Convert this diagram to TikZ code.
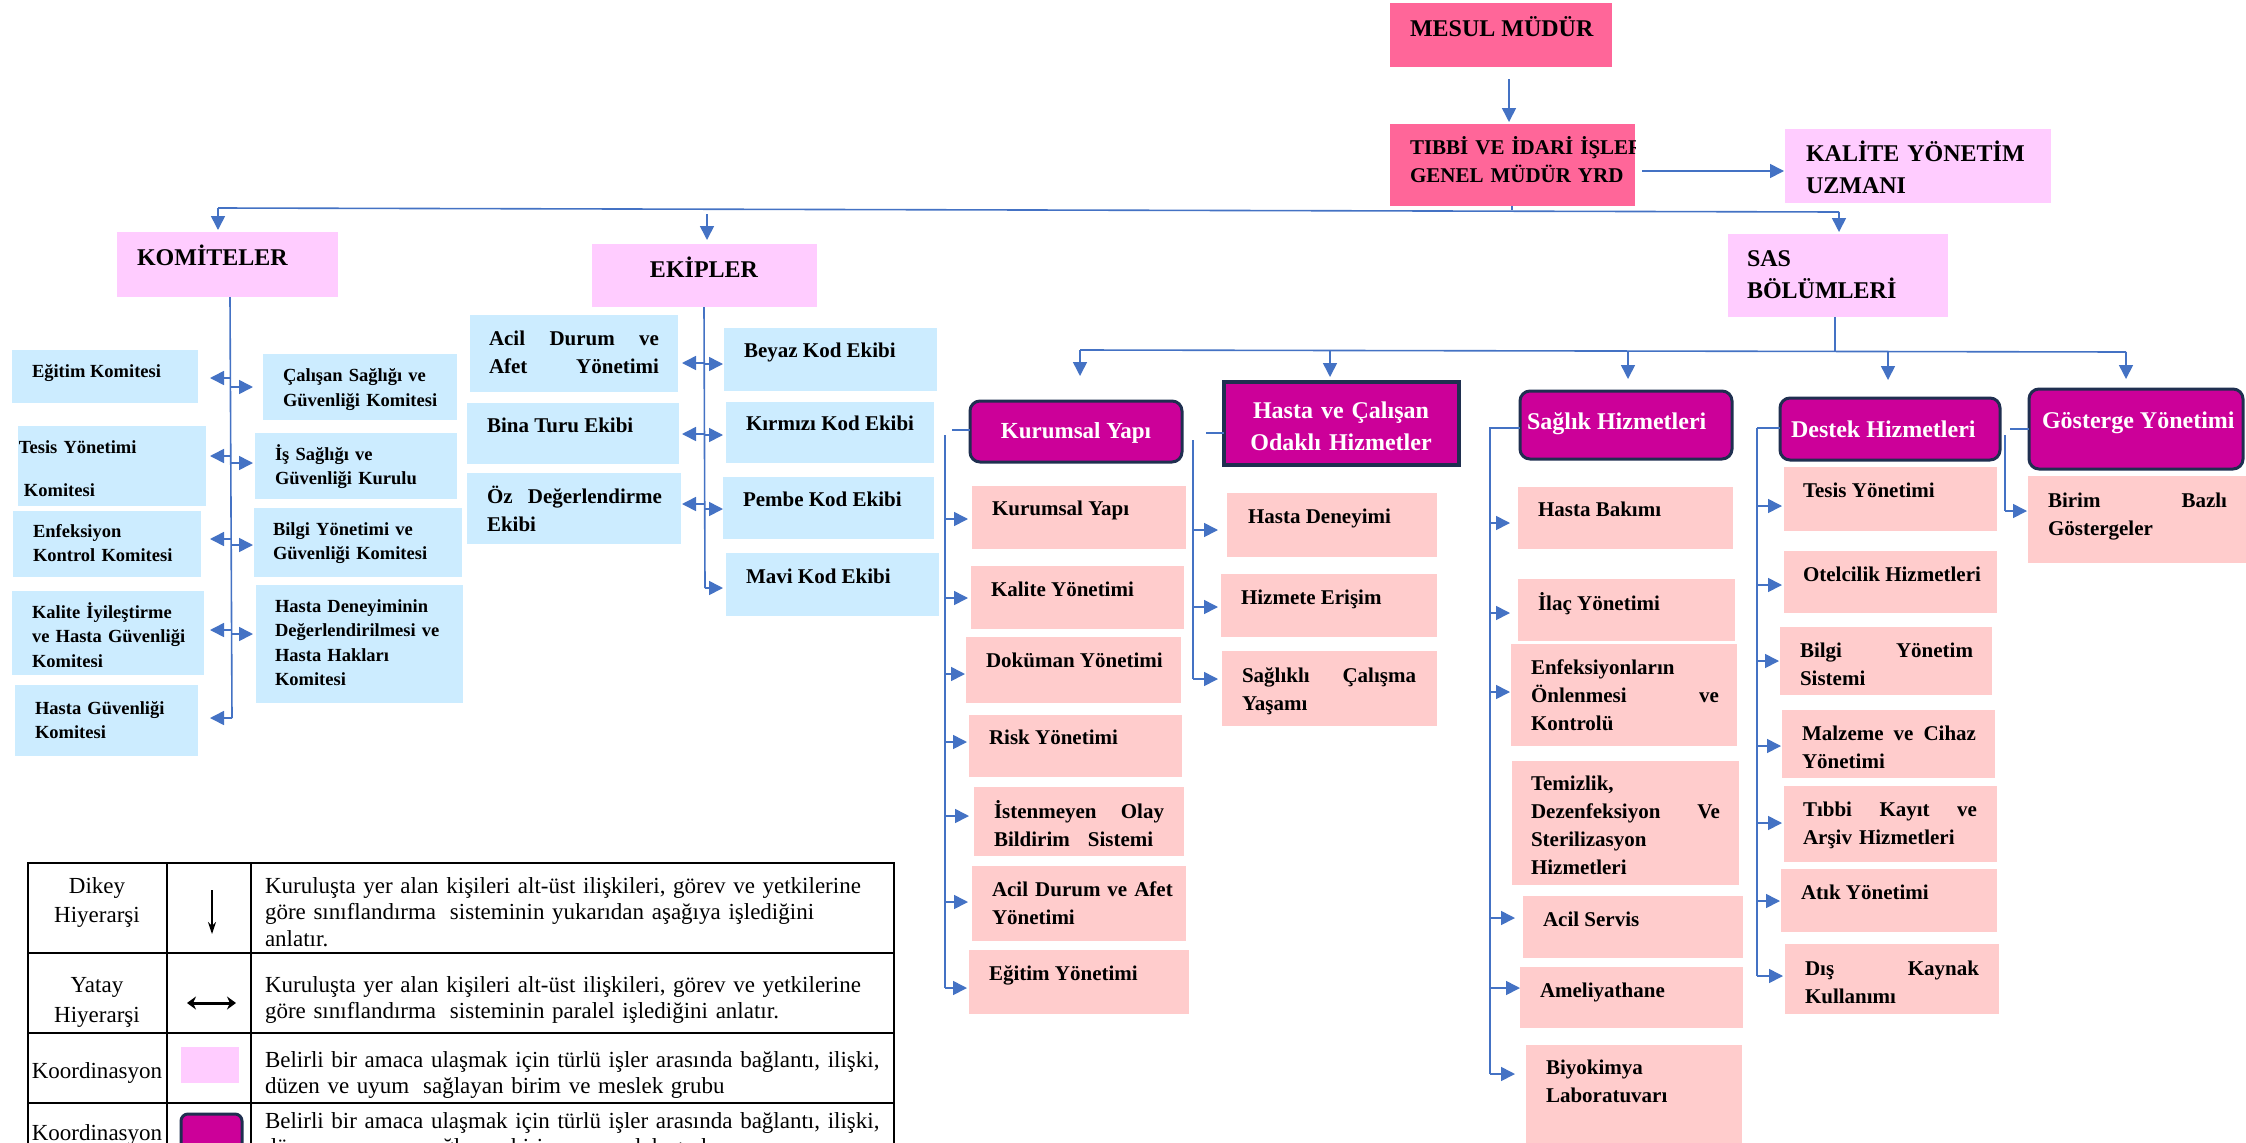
\documentclass[tikz,border=0pt]{standalone}
\usepackage{fontspec}
\setmainfont{Liberation Serif}
\usetikzlibrary{arrows.meta}
\definecolor{cblue}{HTML}{4472C4}
\definecolor{mpink}{HTML}{FF6699}
\definecolor{lpink}{HTML}{FFCCFF}
\definecolor{lblue}{HTML}{CCECFF}
\definecolor{salmon}{HTML}{FFCCCC}
\definecolor{mag}{HTML}{CC0099}
\definecolor{navy}{HTML}{1F2F50}
\newcommand\mybox[6]{\pgfmathsetmacro\myBW{#5-#3}\pgfmathsetmacro\myBH{#6-#4}%
 \node[#1, minimum width=\myBW pt, minimum height=\myBH pt] (#2) at (#3,#4) {};}
\newcommand\mytext[5]{\node[#1, anchor=base west, inner sep=0pt, outer sep=0pt] (#2) at (#3,#4) {#5};}
\begin{document}
\begin{tikzpicture}[x=1pt,y=-1pt,
 ln/.style={draw=cblue, line width=1.6pt},
 arr/.style={ln, -{Triangle[length=14pt,width=14pt]}},
 box/.style={inner sep=0pt, outer sep=0pt, anchor=north west},
 mpbox/.style={box, fill=mpink},
 lpbox/.style={box, fill=lpink},
 lbbox/.style={box, fill=lblue},
 sbox/.style={box, fill=salmon},
 hbox/.style={box, fill=mag, draw=navy, line width=3pt, rounded corners=10pt},
 hsq/.style={box, fill=mag, draw=navy, line width=3.5pt},
 ml/.style={align=left, text width=400pt},
 fK/.style={font=\bfseries\fontsize{18.5}{24.5}\selectfont},
 fT/.style={font=\bfseries\fontsize{21}{28}\selectfont},
 fH/.style={font=\bfseries\fontsize{24}{32}\selectfont},
 fW/.style={fH, text=white},
 fL/.style={font=\fontsize{23}{26.6}\selectfont},
 tbl/.style={draw=black, line width=2pt}]
\useasboundingbox (0,0) rectangle (2246,1143);
\clip (0,0) rectangle (2246,1143);
\fill[white] (0,0) rectangle (2246,1143);

% ---------------- top
\mybox{mpbox}{mesul}{1390}{3}{1612}{67}
\mytext{fH}{mesulT}{1410}{36}{MESUL MÜDÜR}
\mybox{mpbox}{tibbi}{1390}{124}{1635}{206}
\begin{scope}
\clip (tibbi.north west) rectangle (tibbi.south east);
\mytext{fT, ml}{tibbiT}{1410}{154}{TIBBİ VE İDARİ İŞLER\\GENEL MÜDÜR YRD}
\end{scope}
\mybox{lpbox}{kalite}{1785}{129}{2051}{203}
\mytext{fH, ml}{kaliteT}{1806}{161}{KALİTE YÖNETİM\\UZMANI}
\coordinate (m1) at (1509,79);
\draw[arr, shorten >=2pt] (m1) -- (m1 |- tibbi.north);
\coordinate (t1) at (1642,171);
\draw[arr, shorten >=1pt] (t1) -- (t1 -| kalite.west);

\mybox{lpbox}{komiteler}{117}{232}{338}{297}
\mytext{fH}{komT}{137}{265}{KOMİTELER}
\mybox{lpbox}{ekipler}{592}{244}{817}{307}
\node[fH, anchor=base, inner sep=0pt] (ekT) at (704,277) {EKİPLER};
\mybox{lpbox}{sas}{1728}{234}{1948}{317}
\mytext{fH, ml}{sasT}{1747}{266}{SAS\\BÖLÜMLERİ}

\coordinate (bt) at (1512,206);
\coordinate (bj) at (1512,210);
\coordinate (bL) at (218,208);
\coordinate (bR) at (1839,212);
\draw[ln] (bt) -- (bj);
\draw[ln] (bL) -- (bR);
\draw[arr, shorten >=2pt] (bL) -- (bL |- komiteler.north);
\draw[arr, shorten >=2pt] (bR) -- (bR |- sas.north);
\coordinate (be) at (707,214);
\draw[arr, shorten >=4pt] (be) -- (be |- ekipler.north);

% ---------------- komiteler
\mybox{lbbox}{egitim}{12}{350}{198}{403}
\mytext{fK}{egitimT}{32}{377}{Eğitim Komitesi}
\mybox{lbbox}{tesis}{18}{426}{206}{506}
\mytext{fK, ml}{tesisT}{19}{453}{Tesis Yönetimi\\[18.5pt]\hspace*{5pt}Komitesi}
\mybox{lbbox}{enf}{13}{511}{201}{577}
\mytext{fK, ml}{enfT}{33}{537}{Enfeksiyon\\Kontrol Komitesi}
\mybox{lbbox}{kaliy}{12}{591}{204}{675}
\begin{scope}
\clip (12,591) rectangle (204,666);
\mytext{fK, ml}{kaliyT}{32}{618}{Kalite İyileştirme\\ve Hasta Güvenliği\\Komitesi}
\end{scope}
\mybox{lbbox}{hguv}{15}{685}{198}{756}
\mytext{fK, ml}{hguvT}{35}{714}{Hasta Güvenliği\\Komitesi}
\mybox{lbbox}{calisan}{263}{354}{457}{420}
\mytext{fK, ml}{calisanT}{283}{381.5}{Çalışan Sağlığı ve\\Güvenliği Komitesi}
\mybox{lbbox}{issag}{255}{433}{457}{499}
\mytext{fK, ml}{issagT}{275}{460}{İş Sağlığı ve\\Güvenliği Kurulu}
\mybox{lbbox}{bilgi}{254}{508}{462}{577}
\mytext{fK, ml}{bilgiT}{273}{535}{Bilgi Yönetimi ve\\Güvenliği Komitesi}
\mybox{lbbox}{hden}{256}{585}{463}{703}
\mytext{fK, ml}{hdenT}{275}{612}{Hasta Deneyiminin\\Değerlendirilmesi ve\\Hasta Hakları\\Komitesi}

\coordinate (kv0) at (230,297);
\coordinate (kv1) at (232,718);
\draw[ln] (kv0) -- (kv1);
\coordinate (kl1) at (231,378); \draw[arr, shorten >=12pt] (kl1) -- (kl1 -| egitim.east);
\coordinate (kl2) at (231,456); \draw[arr, shorten >=4pt] (kl2) -- (kl2 -| tesis.east);
\coordinate (kl3) at (231,539); \draw[arr, shorten >=9pt] (kl3) -- (kl3 -| enf.east);
\coordinate (kl4) at (232,630); \draw[arr, shorten >=6pt] (kl4) -- (kl4 -| kaliy.east);
\draw[arr, shorten >=12pt] (kv1) -- (kv1 -| hguv.east);
\coordinate (kr1) at (231,387); \draw[arr, shorten >=10pt] (kr1) -- (kr1 -| calisan.west);
\coordinate (kr2) at (231,463); \draw[arr, shorten >=2pt] (kr2) -- (kr2 -| issag.west);
\coordinate (kr3) at (232,545); \draw[arr, shorten >=1pt] (kr3) -- (kr3 -| bilgi.west);
\coordinate (kr4) at (232,634); \draw[arr, shorten >=3pt] (kr4) -- (kr4 -| hden.west);

% ---------------- ekipler
\mybox{lbbox}{acil}{470}{315}{678}{392}
\mytext{fT, align=left, text width=170pt}{acilT}{489}{345}{Acil\hfill Durum\hfill ve\\Afet\hfill Yönetimi}
\mybox{lbbox}{bina}{467}{403}{679}{464}
\mytext{fT}{binaT}{487}{432}{Bina Turu Ekibi}
\mybox{lbbox}{oz}{467}{473}{681}{544}
\mytext{fT, align=left, text width=175pt}{ozT}{487}{503}{Öz\hfill Değerlendirme\\Ekibi}
\mybox{lbbox}{beyaz}{724}{328}{937}{391}
\mytext{fT}{beyazT}{744}{357}{Beyaz Kod Ekibi}
\mybox{lbbox}{kirmizi}{726}{402}{934}{463}
\mytext{fT}{kirmiziT}{746}{430}{Kırmızı Kod Ekibi}
\mybox{lbbox}{pembe}{723}{477}{934}{539}
\mytext{fT}{pembeT}{743}{506}{Pembe Kod Ekibi}
\mybox{lbbox}{mavi}{726}{553}{939}{616}
\mytext{fT}{maviT}{746}{583}{Mavi Kod Ekibi}

\coordinate (ev0) at (704,307);
\coordinate (ev1) at (705,588);
\draw[ln] (ev0) -- (ev1);
\coordinate (el1) at (704,363); \draw[arr, shorten >=4pt] (el1) -- (el1 -| acil.east);
\coordinate (el2) at (704,434); \draw[arr, shorten >=3pt] (el2) -- (el2 -| bina.east);
\coordinate (el3) at (705,504); \draw[arr, shorten >=1pt] (el3) -- (el3 -| oz.east);
\coordinate (er1) at (704,364); \draw[arr, shorten >=1pt] (er1) -- (er1 -| beyaz.west);
\coordinate (er2) at (704,435); \draw[arr, shorten >=3pt] (er2) -- (er2 -| kirmizi.west);
\coordinate (er3) at (705,509); \draw[arr] (er3) -- (er3 -| pembe.west);
\draw[arr, shorten >=3pt] (ev1) -- (ev1 -| mavi.west);

% ---------------- SAS headers
\mybox{hbox}{hK}{970}{401}{1182}{462}
\node[fW, font=\bfseries\fontsize{23}{30}\selectfont, anchor=base, inner sep=0pt] (hKT) at (1076,438) {Kurumsal Yapı};
\mybox{hsq}{hH}{1224}{382}{1459}{465}
\node[fW, align=center, text width=230pt, anchor=base, inner sep=0pt] (hHT) at (1341,418) {Hasta ve Çalışan\\Odaklı Hizmetler};
\mybox{hbox}{hS}{1520}{391}{1732}{459}
\mytext{fW}{hST}{1527}{429}{Sağlık Hizmetleri}
\mybox{hbox}{hD}{1780}{398}{2000}{460}
\mytext{fW}{hDT}{1791}{437}{Destek Hizmetleri}
\mybox{hbox}{hG}{2029}{389}{2243}{469}
\mytext{fW}{hGT}{2042}{428}{Gösterge Yönetimi}

\coordinate (sv0) at (1835,317);
\coordinate (sv1) at (1835,351);
\draw[ln] (sv0) -- (sv1);
\coordinate (sbL) at (1080,350);
\coordinate (sbR) at (2126,352);
\draw[ln] (sbL) -- (sbR);
\draw[arr, shorten >=25pt] (sbL) -- (sbL |- hK.north);
\coordinate (sa2) at (1330,351); \draw[arr, shorten >=5pt] (sa2) -- (sa2 |- hH.north);
\coordinate (sa3) at (1628,351); \draw[arr, shorten >=12pt] (sa3) -- (sa3 |- hS.north);
\coordinate (sa4) at (1888,352); \draw[arr, shorten >=18pt] (sa4) -- (sa4 |- hD.north);
\draw[arr, shorten >=10pt] (sbR) -- (sbR |- hG.north);

% ---------------- Kurumsal Yapı items
\mybox{sbox}{k1}{972}{486}{1186}{549}
\mytext{fT}{k1T}{992}{515}{Kurumsal Yapı}
\mybox{sbox}{k2}{971}{566}{1184}{629}
\mytext{fT}{k2T}{991}{596}{Kalite Yönetimi}
\mybox{sbox}{k3}{966}{637}{1181}{703}
\mytext{fT}{k3T}{986}{667}{Doküman Yönetimi}
\mybox{sbox}{k4}{969}{715}{1182}{777}
\mytext{fT}{k4T}{989}{744}{Risk Yönetimi}
\mybox{sbox}{k5}{974}{787}{1184}{856}
\mytext{fT, align=left, text width=170pt}{k5T}{994}{818}{İstenmeyen\hfill Olay\\Bildirim\hspace{18pt}Sistemi}
\mybox{sbox}{k6}{972}{866}{1186}{941}
\mytext{fT, ml}{k6T}{992}{896}{Acil Durum ve Afet\\Yönetimi}
\mybox{sbox}{k7}{969}{950}{1189}{1014}
\mytext{fT}{k7T}{989}{980}{Eğitim Yönetimi}

\coordinate (ks) at (952,430); \draw[ln] (ks) -- (ks -| hK.west);
\coordinate (kvA) at (945,435);
\coordinate (kvB) at (945,988);
\draw[ln] (kvA) -- (kvB);
\coordinate (ka1) at (945,519); \draw[arr, shorten >=4pt] (ka1) -- (ka1 -| k1.west);
\coordinate (ka2) at (945,598); \draw[arr, shorten >=3pt] (ka2) -- (ka2 -| k2.west);
\coordinate (ka3) at (945,674); \draw[arr, shorten >=1pt] (ka3) -- (ka3 -| k3.west);
\coordinate (ka4) at (945,742); \draw[arr, shorten >=2pt] (ka4) -- (ka4 -| k4.west);
\coordinate (ka5) at (945,816); \draw[arr, shorten >=5pt] (ka5) -- (ka5 -| k5.west);
\coordinate (ka6) at (945,902); \draw[arr, shorten >=4pt] (ka6) -- (ka6 -| k6.west);
\draw[arr, shorten >=2pt] (kvB) -- (kvB -| k7.west);

% ---------------- Hasta ve Çalışan items
\mybox{sbox}{h1}{1227}{493}{1437}{557}
\mytext{fT}{h1T}{1248}{523}{Hasta Deneyimi}
\mybox{sbox}{h2}{1221}{574}{1437}{637}
\mytext{fT}{h2T}{1241}{604}{Hizmete Erişim}
\mybox{sbox}{h3}{1222}{651}{1437}{726}
\mytext{fT, align=left, text width=174pt}{h3T}{1242}{682}{Sağlıklı\hfill Çalışma\\Yaşamı}

\coordinate (hs) at (1206,433); \draw[ln] (hs) -- (hs -| hH.west);
\coordinate (hvA) at (1193,440);
\coordinate (hvB) at (1193,679);
\draw[ln] (hvA) -- (hvB);
\coordinate (ha1) at (1193,530); \draw[arr, shorten >=9pt] (ha1) -- (ha1 -| h1.west);
\coordinate (ha2) at (1193,607); \draw[arr, shorten >=3pt] (ha2) -- (ha2 -| h2.west);
\draw[arr, shorten >=4pt] (hvB) -- (hvB -| h3.west);

% ---------------- Sağlık Hizmetleri items
\mybox{sbox}{s1}{1518}{487}{1733}{549}
\mytext{fT}{s1T}{1538}{516}{Hasta Bakımı}
\mybox{sbox}{s2}{1518}{579}{1735}{641}
\mytext{fT}{s2T}{1538}{610}{İlaç Yönetimi}
\mybox{sbox}{s3}{1511}{644}{1737}{746}
\mytext{fT, align=left, text width=188pt}{s3T}{1531}{674}{Enfeksiyonların\\Önlenmesi\hfill ve\\Kontrolü}
\mybox{sbox}{s4}{1512}{761}{1739}{885}
\mytext{fT, align=left, text width=189pt}{s4T}{1531}{790.5}{Temizlik,\\Dezenfeksiyon\hfill Ve\\Sterilizasyon\\Hizmetleri}
\mybox{sbox}{s5}{1523}{896}{1743}{958}
\mytext{fT}{s5T}{1543}{926}{Acil Servis}
\mybox{sbox}{s6}{1520}{967}{1743}{1028}
\mytext{fT}{s6T}{1540}{997}{Ameliyathane}
\mybox{sbox}{s7}{1526}{1045}{1742}{1143}
\mytext{fT, ml}{s7T}{1546}{1074}{Biyokimya\\Laboratuvarı}

\coordinate (ss) at (1489,428); \draw[ln] (ss) -- (ss -| hS.west);
\coordinate (svB) at (1490,1074);
\draw[ln] (1490,428) -- (svB);
\coordinate (sg1) at (1490,523); \draw[arr, shorten >=8pt] (sg1) -- (sg1 -| s1.west);
\coordinate (sg2) at (1490,613); \draw[arr, shorten >=8pt] (sg2) -- (sg2 -| s2.west);
\coordinate (sg3) at (1490,692); \draw[arr, shorten >=1pt] (sg3) -- (sg3 -| s3.west);
\coordinate (sg5) at (1490,918); \draw[arr, shorten >=8pt] (sg5) -- (sg5 -| s5.west);
\coordinate (sg6) at (1490,988); \draw[arr] (sg6) -- (sg6 -| s6.west);
\draw[arr, shorten >=11pt] (svB) -- (svB -| s7.west);

% ---------------- Destek Hizmetleri items
\mybox{sbox}{d1}{1784}{467}{1997}{531}
\mytext{fT}{d1T}{1803}{497}{Tesis Yönetimi}
\mybox{sbox}{d2}{1784}{551}{1997}{613}
\mytext{fT}{d2T}{1803}{581}{Otelcilik Hizmetleri}
\mybox{sbox}{d3}{1780}{627}{1992}{695}
\mytext{fT, align=left, text width=173pt}{d3T}{1800}{657}{Bilgi\hfill Yönetim\\Sistemi}
\mybox{sbox}{d4}{1782}{710}{1995}{778}
\mytext{fT, align=left, text width=174pt}{d4T}{1802}{740.5}{Malzeme\hfill ve\hfill Cihaz\\Yönetimi}
\mybox{sbox}{d5}{1784}{786}{1997}{862}
\mytext{fT, align=left, text width=174pt}{d5T}{1803}{816}{Tıbbi\hfill Kayıt\hfill ve\\Arşiv Hizmetleri}
\mybox{sbox}{d6}{1781}{869}{1997}{932}
\mytext{fT}{d6T}{1801}{899}{Atık Yönetimi}
\mybox{sbox}{d7}{1785}{944}{1999}{1014}
\mytext{fT, align=left, text width=174pt}{d7T}{1805}{975}{Dış\hfill Kaynak\\Kullanımı}

\coordinate (ds) at (1757,428); \draw[ln] (ds) -- (ds -| hD.west);
\coordinate (dvB) at (1757,976);
\draw[ln] (ds) -- (dvB);
\coordinate (dg1) at (1757,506); \draw[arr, shorten >=2pt] (dg1) -- (dg1 -| d1.west);
\coordinate (dg2) at (1757,585); \draw[arr, shorten >=2pt] (dg2) -- (dg2 -| d2.west);
\coordinate (dg3) at (1757,661); \draw[arr, shorten >=1pt] (dg3) -- (dg3 -| d3.west);
\coordinate (dg4) at (1757,746); \draw[arr, shorten >=1pt] (dg4) -- (dg4 -| d4.west);
\coordinate (dg5) at (1757,823); \draw[arr, shorten >=2pt] (dg5) -- (dg5 -| d5.west);
\coordinate (dg6) at (1757,901); \draw[arr, shorten >=1pt] (dg6) -- (dg6 -| d6.west);
\draw[arr, shorten >=2pt] (dvB) -- (dvB -| d7.west);

% ---------------- Gösterge Yönetimi items
\mybox{sbox}{g1}{2028}{476}{2246}{563}
\mytext{fT, align=left, text width=179pt}{g1T}{2048}{507.5}{Birim\hfill Bazlı\\Göstergeler}
\coordinate (gs) at (2010,429); \draw[ln] (gs) -- (gs -| hG.west);
\coordinate (gvA) at (2005,435);
\coordinate (gvB) at (2005,511);
\draw[ln] (gvA) -- (gvB);
\draw[arr, shorten >=1pt] (gvB) -- (gvB -| g1.west);

% ---------------- legend table
\draw[tbl] (27.5,863) -- (894,863);
\draw[tbl] (27.5,953) -- (894,953);
\draw[tbl] (27.5,1033) -- (894,1033);
\draw[tbl] (27.5,1103) -- (894,1103);
\draw[tbl] (27.5,862) -- (27.5,1150);
\draw[tbl] (166.5,862) -- (166.5,1150);
\draw[tbl] (251,862) -- (251,1150);
\draw[tbl] (894,862) -- (894,1150);

\node[font=\fontsize{23}{29}\selectfont, align=center, text width=139pt, anchor=base, inner sep=0pt] (lg1) at (97,893) {Dikey\\Hiyerarşi};
\node[font=\fontsize{23}{30}\selectfont, align=center, text width=139pt, anchor=base, inner sep=0pt] (lg2) at (97,992) {Yatay\\Hiyerarşi};
\node[fL, anchor=base, inner sep=0pt] (lg3) at (97,1078) {Koordinasyon};
\node[fL, anchor=base, inner sep=0pt] (lg4) at (97,1140) {Koordinasyon};

\coordinate (la0) at (212,890);
\coordinate (la1) at (212,934);
\draw[black, line width=1.5pt, -{Stealth[length=12pt,width=8pt]}] (la0) -- (la1);
\coordinate (lb0) at (187,1003);
\coordinate (lb1) at (236,1003);
\draw[black, line width=3pt, {Stealth[length=9pt,width=13pt]}-{Stealth[length=9pt,width=13pt]}] (lb0) -- (lb1);
\mybox{lpbox}{lsq1}{181}{1047}{239}{1083}
\node[box, fill=mag, draw=navy, line width=3pt, rounded corners=7pt, minimum width=61pt, minimum height=60pt] (lsq2) at (181,1114) {};

\mytext{fL, align=left, text width=630pt}{ld1}{265}{893}{Kuruluşta yer alan kişileri alt-üst ilişkileri, görev ve yetkilerine\\göre sınıflandırma\hspace{0.6em}sisteminin yukarıdan aşağıya işlediğini\\anlatır.}
\mytext{fL, align=left, text width=630pt}{ld2}{265}{992}{Kuruluşta yer alan kişileri alt-üst ilişkileri, görev ve yetkilerine\\göre sınıflandırma\hspace{0.6em}sisteminin paralel işlediğini anlatır.}
\mytext{fL, align=left, text width=630pt}{ld3}{265}{1067}{Belirli bir amaca ulaşmak için türlü işler arasında bağlantı, ilişki,\\düzen ve uyum\hspace{0.6em}sağlayan birim ve meslek grubu}
\mytext{fL, align=left, text width=630pt}{ld4}{265}{1128}{Belirli bir amaca ulaşmak için türlü işler arasında bağlantı, ilişki,\\düzen ve uyum\hspace{0.6em}sağlayan birim ve meslek grubu}
\end{tikzpicture}
\end{document}
